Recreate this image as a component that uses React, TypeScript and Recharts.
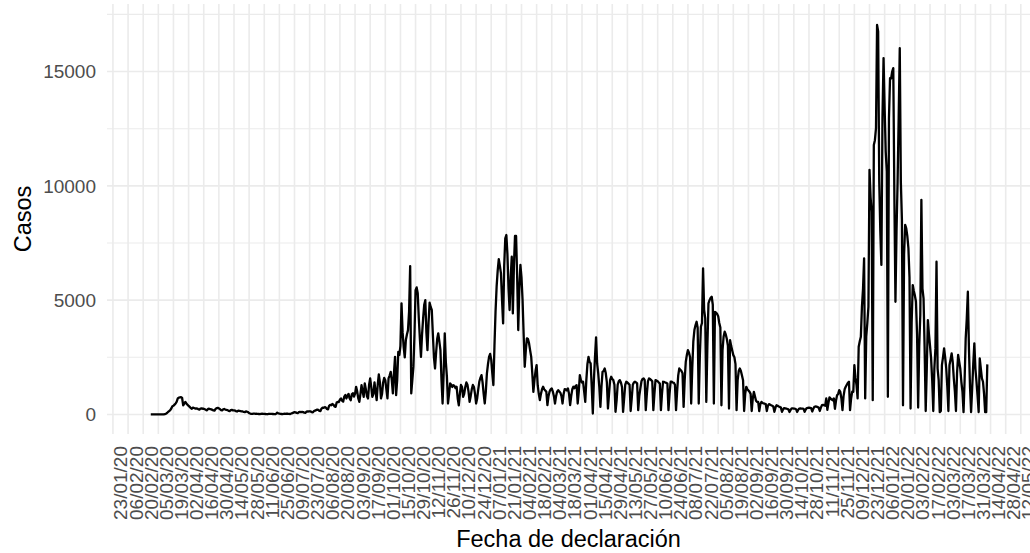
import { LineChart, Line, XAxis, YAxis, CartesianGrid } from 'recharts'

// etiquetas del eje X: cada 14 días desde el 23/01/20
const etiquetasX = [
  '23/01/20', '06/02/20', '20/02/20', '05/03/20', '19/03/20', '02/04/20', '16/04/20', '30/04/20',
  '14/05/20', '28/05/20', '11/06/20', '25/06/20', '09/07/20', '23/07/20', '06/08/20', '20/08/20',
  '03/09/20', '17/09/20', '01/10/20', '15/10/20', '29/10/20', '12/11/20', '26/11/20', '10/12/20',
  '24/12/20', '07/01/21', '21/01/21', '04/02/21', '18/02/21', '04/03/21', '18/03/21', '01/04/21',
  '15/04/21', '29/04/21', '13/05/21', '27/05/21', '10/06/21', '24/06/21', '08/07/21', '22/07/21',
  '05/08/21', '19/08/21', '02/09/21', '16/09/21', '30/09/21', '14/10/21', '28/10/21', '11/11/21',
  '25/11/21', '09/12/21', '23/12/21', '06/01/22', '20/01/22', '03/02/22', '17/02/22', '03/03/22',
  '17/03/22', '31/03/22', '14/04/22', '28/04/22', '12/05/22',
]

// primer día con datos: 27/02/20 (día 35 contando desde el 23/01/20)
const diaInicial = 35

// casos diarios, una semana (jueves a miércoles) por línea
const casosDiarios = [
  0, 0, 0, 0, 0, 0, 0,
  0, 0, 0, 0, 0, 0, 10,
  30, 60, 110, 150, 190, 260, 360,
  380, 430, 480, 560, 700, 740, 750,
  760, 720, 400, 470, 550, 480, 420,
  380, 330, 280, 250, 300, 280, 260,
  270, 260, 230, 210, 260, 270, 250,
  250, 230, 200, 180, 240, 250, 230,
  220, 200, 180, 170, 240, 280, 290,
  270, 230, 190, 180, 220, 240, 210,
  200, 190, 160, 150, 190, 200, 180,
  180, 170, 140, 130, 170, 160, 150,
  140, 130, 110, 100, 130, 120, 100,
  60, 40, 30, 25, 35, 35, 30,
  30, 25, 20, 15, 30, 35, 30,
  25, 20, 15, 10, 25, 30, 25,
  25, 20, 15, 10, 30, 80, 45,
  35, 25, 20, 15, 30, 35, 30,
  30, 30, 25, 20, 40, 60, 80,
  100, 90, 70, 60, 100, 110, 100,
  110, 100, 80, 70, 120, 130, 130,
  140, 130, 100, 90, 150, 170, 190,
  210, 200, 160, 150, 260, 300, 290,
  320, 300, 240, 220, 380, 420, 400,
  460, 430, 350, 330, 520, 550, 540,
  650, 700, 600, 560, 780, 850, 700,
  820, 900, 700, 620, 880, 930, 780,
  900, 1210, 1000, 700, 550, 900, 1280,
  1000, 770, 1360, 1100, 800, 700, 1300,
  1575, 1200, 770, 900, 1400, 1000, 625,
  1300, 1750, 1400, 700, 900, 1400, 1600,
  1500, 1100, 700, 1575, 1700, 1865, 1500,
  920, 1800, 2520, 845, 1500, 2740, 2600,
  3000, 4860, 3600, 2950, 2500, 3250, 3500,
  3690, 4500, 6490, 920, 1500, 2080, 3500,
  5440, 5560, 5300, 4200, 3300, 2520, 3500,
  4200, 4800, 5000, 3600, 2815, 4000, 4890,
  4700, 4570, 3500, 2500, 2010, 2700, 3300,
  3550, 3200, 2815, 1500, 480, 1800, 3550,
  2300, 1650, 480, 900, 1360, 1300, 1200,
  1280, 1250, 1150, 1210, 700, 400, 900,
  1290, 1200, 770, 900, 1200, 1400, 1300,
  1000, 550, 800, 1100, 1290, 1200, 900,
  480, 700, 1100, 1440, 1600, 1720, 1400,
  900, 480, 1000, 1790, 2200, 2520, 2650,
  2400, 1800, 1280, 3000, 4500, 5590, 6300,
  6790, 6500, 6170, 5000, 3985, 6500, 7700,
  7850, 7000, 5500, 4570, 6000, 6900, 4420,
  6500, 7810, 7810, 6000, 3690, 5500, 6540,
  6000, 5000, 3500, 2085, 2800, 3330, 3300,
  3110, 2800, 2520, 1800, 990, 1500, 1900,
  2160, 1280, 900, 625, 900, 1100, 1210,
  1100, 1050, 990, 410, 800, 1000, 1100,
  1140, 1000, 800, 480, 800, 1000, 1065,
  1000, 950, 800, 480, 900, 1110, 1100,
  1050, 1140, 900, 410, 800, 1100, 1210,
  1150, 1250, 1280, 480, 1000, 1720, 1500,
  1400, 1430, 1000, 550, 1500, 2200, 2520,
  2300, 2230, 1200, 40, 1500, 2500, 3370,
  2230, 1800, 1200, 330, 1200, 1865, 1900,
  2010, 1800, 1400, 260, 900, 1500, 1650,
  1550, 1500, 1300, 115, 600, 1300, 1450,
  1500, 1400, 1200, 115, 700, 1300, 1430,
  1400, 1350, 1300, 150, 700, 1300, 1400,
  1430, 1400, 1360, 190, 800, 1140, 1450,
  1550, 1575, 1500, 190, 900, 1450, 1575,
  1550, 1500, 1450, 190, 900, 1500, 1480,
  1450, 1400, 1350, 190, 900, 1430, 1420,
  1400, 1380, 1350, 190, 900, 1430, 1430,
  1400, 1380, 1300, 190, 1000, 1700, 2010,
  1950, 1900, 1800, 330, 1500, 2300, 2600,
  2815, 2700, 2500, 480, 2000, 3200, 3690,
  3900, 4055, 3800, 480, 2500, 3835, 4000,
  6390, 4570, 4200, 550, 3000, 4860, 5000,
  5100, 5150, 4800, 480, 4490, 4450, 4400,
  4300, 4000, 3800, 400, 2800, 3400, 3620,
  3500, 3300, 3000, 260, 3250, 3000, 2800,
  2595, 2500, 2200, 190, 1500, 1900, 2010,
  1900, 1700, 1500, 150, 900, 1210, 1100,
  1050, 990, 900, 150, 700, 990, 800,
  600, 550, 550, 150, 450, 550, 500,
  480, 470, 450, 150, 380, 450, 430,
  400, 380, 350, 115, 300, 400, 380,
  350, 330, 300, 115, 220, 280, 270,
  260, 240, 220, 110, 200, 270, 270,
  260, 250, 230, 110, 200, 260, 270,
  260, 250, 240, 115, 220, 280, 290,
  300, 290, 280, 130, 250, 330, 350,
  340, 320, 300, 150, 300, 410, 420,
  400, 380, 700, 200, 500, 750, 700,
  650, 620, 700, 250, 600, 845, 900,
  1065, 990, 700, 190, 800, 1100, 1210,
  1300, 1380, 1430, 190, 700, 1000, 990,
  2160, 1600, 1280, 700, 2960, 3200, 3400,
  4710, 5500, 6830, 700, 3400, 4000, 4710,
  10700, 9500, 8870, 625, 11790, 12000, 12520,
  17040, 16750, 10180, 8000, 6540, 13000, 15590,
  13400, 11500, 10620, 770, 12960, 14710, 14700,
  15000, 15150, 9600, 4930, 8000, 10180, 13000,
  16020, 10180, 8500, 400, 7000, 8290, 8140,
  7800, 7270, 6000, 260, 4000, 5660, 5400,
  5200, 4930, 3500, 300, 3000, 4350, 9390,
  5500, 5080, 2890, 150, 2000, 4130, 3500,
  3000, 2450, 1500, 150, 2000, 2890, 6680,
  2010, 1500, 100, 150, 2160, 2500, 2890,
  2500, 2010, 1200, 150, 2160, 2400, 2670,
  2300, 1575, 1000, 150, 1800, 2600, 2300,
  2000, 1430, 1000, 100, 1500, 3330, 4200,
  5370, 2890, 1200, 100, 1140, 2200, 3110,
  2000, 1430, 800, 100, 2450, 2000, 1575,
  1430, 900, 100, 100, 2190,
]

const ticksY = [0, 5000, 10000, 15000]
const lineasMenoresY = [2500, 7500, 12500, 17500]

const datos = casosDiarios.map((casos, i) => ({ dia: diaInicial + i, casos }))
const ticksX = etiquetasX.map((_, i) => i * 14)

const fuente = "'Liberation Sans', Arial, sans-serif"

const TickFecha = ({ x, y, payload }: any) => (
  <text
    transform={`translate(${x + 14.5}, ${y + 12}) rotate(-90)`}
    textAnchor="end"
    fontSize={19}
    fill="#4D4D4D"
    fontFamily={fuente}
  >
    {etiquetasX[Math.round(payload.value / 14)]}
  </text>
)

const TituloX = () => (
  <text x={568.5} y={547} textAnchor="middle" fontSize={23.5} fill="#000" fontFamily={fuente}>
    Fecha de declaración
  </text>
)

const TituloY = () => (
  <text
    transform="translate(31, 219) rotate(-90)"
    textAnchor="middle"
    fontSize={23.5}
    fill="#000"
    fontFamily={fuente}
  >
    Casos
  </text>
)

const App = () => {
  return (
    <div style={{ position: 'absolute', left: 0, top: 0, width: 1030, height: 553, overflow: 'hidden', background: '#fff' }}>
      <LineChart width={1030} height={553} data={datos} margin={{ top: 4, right: 0, bottom: 0, left: 0 }}>
        <CartesianGrid stroke="#EBEBEB" strokeWidth={1.1} vertical={false} horizontalValues={lineasMenoresY} />
        <CartesianGrid stroke="#EBEBEB" strokeWidth={1.6} horizontalValues={ticksY} verticalValues={ticksX} />
        <XAxis
          type="number"
          dataKey="dia"
          domain={[-5.5, 848.5]}
          ticks={ticksX}
          interval={0}
          tick={(props: any) => <TickFecha {...props} />}
          tickLine={false}
          axisLine={false}
          tickSize={0}
          tickMargin={0}
          height={119}
          label={{ content: () => <TituloX /> }}
        />
        <YAxis
          type="number"
          domain={[-855, 17955]}
          ticks={ticksY}
          tick={{ fontSize: 19, fill: '#4D4D4D', fontFamily: fuente }}
          tickLine={false}
          axisLine={false}
          tickSize={0}
          tickMargin={11}
          width={107}
          label={{ content: () => <TituloY /> }}
        />
        <Line
          type="linear"
          dataKey="casos"
          stroke="#000"
          strokeWidth={2.3}
          strokeLinejoin="round"
          dot={false}
          isAnimationActive={false}
        />
      </LineChart>
    </div>
  )
}

export default App
